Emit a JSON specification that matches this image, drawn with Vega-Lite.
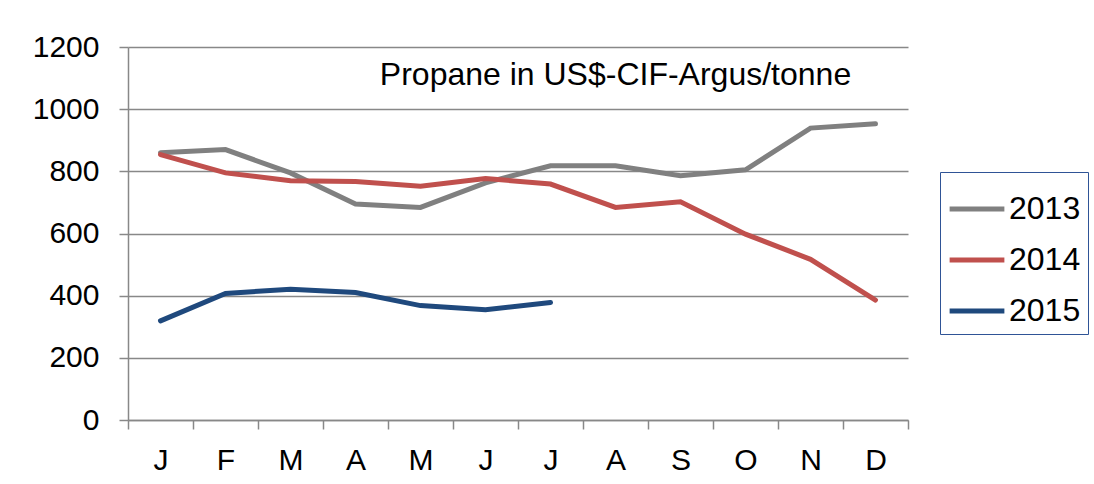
{
  "$schema": "https://vega.github.io/schema/vega-lite/v6.json",
  "autosize": "none",
  "width": 780,
  "height": 373,
  "padding": {"left": 128, "top": 47, "right": 186, "bottom": 64},
  "background": "white",
  "config": {
    "font": "Liberation Sans",
    "view": {"stroke": null},
    "axis": {
      "labelFont": "Liberation Sans",
      "labelFontSize": 30,
      "labelColor": "black",
      "domainColor": "#888888",
      "tickColor": "#888888",
      "gridColor": "#888888",
      "domainWidth": 1.5,
      "tickWidth": 1.5,
      "gridWidth": 1.5,
      "tickSize": 9,
      "title": null
    }
  },
  "layer": [
    {
      "data": {
        "values": [
          {"month": "Jan", "year": "2013", "price": 860},
          {"month": "Feb", "year": "2013", "price": 870},
          {"month": "Mar", "year": "2013", "price": 795},
          {"month": "Apr", "year": "2013", "price": 695},
          {"month": "May", "year": "2013", "price": 684},
          {"month": "Jun", "year": "2013", "price": 763},
          {"month": "Jul", "year": "2013", "price": 818},
          {"month": "Aug", "year": "2013", "price": 818},
          {"month": "Sep", "year": "2013", "price": 786},
          {"month": "Oct", "year": "2013", "price": 805},
          {"month": "Nov", "year": "2013", "price": 939},
          {"month": "Dec", "year": "2013", "price": 953},
          {"month": "Jan", "year": "2014", "price": 854},
          {"month": "Feb", "year": "2014", "price": 795},
          {"month": "Mar", "year": "2014", "price": 770},
          {"month": "Apr", "year": "2014", "price": 767},
          {"month": "May", "year": "2014", "price": 752},
          {"month": "Jun", "year": "2014", "price": 777},
          {"month": "Jul", "year": "2014", "price": 759},
          {"month": "Aug", "year": "2014", "price": 684},
          {"month": "Sep", "year": "2014", "price": 702},
          {"month": "Oct", "year": "2014", "price": 598},
          {"month": "Nov", "year": "2014", "price": 517},
          {"month": "Dec", "year": "2014", "price": 386},
          {"month": "Jan", "year": "2015", "price": 319},
          {"month": "Feb", "year": "2015", "price": 407},
          {"month": "Mar", "year": "2015", "price": 421},
          {"month": "Apr", "year": "2015", "price": 410},
          {"month": "May", "year": "2015", "price": 368},
          {"month": "Jun", "year": "2015", "price": 355},
          {"month": "Jul", "year": "2015", "price": 378}
        ]
      },
      "mark": {"type": "line", "strokeWidth": 5, "strokeCap": "round"},
      "encoding": {
        "x": {
          "field": "month",
          "type": "ordinal",
          "scale": {"domain": ["Jan","Feb","Mar","Apr","May","Jun","Jul","Aug","Sep","Oct","Nov","Dec"], "paddingInner": 0, "paddingOuter": 0},
          "axis": {"labelAngle": 0, "tickBand": "extent", "labelExpr": "isValid(datum.value) ? substring(datum.value, 0, 1) : ''", "labelPadding": 16, "grid": false, "labelBaseline": "top"}
        },
        "y": {
          "field": "price",
          "type": "quantitative",
          "scale": {"domain": [0, 1200], "nice": false},
          "axis": {"values": [0,200,400,600,800,1000,1200], "format": "d", "labelPadding": 20, "grid": true}
        },
        "color": {
          "field": "year",
          "type": "nominal",
          "scale": {"domain": ["2013","2014","2015"], "range": ["#808080","#C0504D","#1F497D"]},
          "legend": {
            "orient": "none",
            "legendX": 812,
            "legendY": 125,
            "title": null,
            "symbolType": "stroke",
            "symbolSize": 3000,
            "symbolStrokeWidth": 5,
            "labelFontSize": 32,
            "labelFont": "Liberation Sans",
            "labelColor": "black",
            "labelOffset": 2,
            "rowPadding": 5,
            "padding": 7,
            "strokeColor": "#2F5496",
            "fillColor": "white"
          }
        }
      }
    },
    {
      "data": {"values": [{"label": "Propane in US$-CIF-Argus/tonne"}]},
      "mark": {"type": "text", "fontSize": 32, "font": "Liberation Sans", "color": "black"},
      "encoding": {
        "x": {"datum": "Aug", "type": "ordinal"},
        "y": {"datum": 1110, "type": "quantitative"},
        "text": {"field": "label"}
      }
    }
  ]
}
